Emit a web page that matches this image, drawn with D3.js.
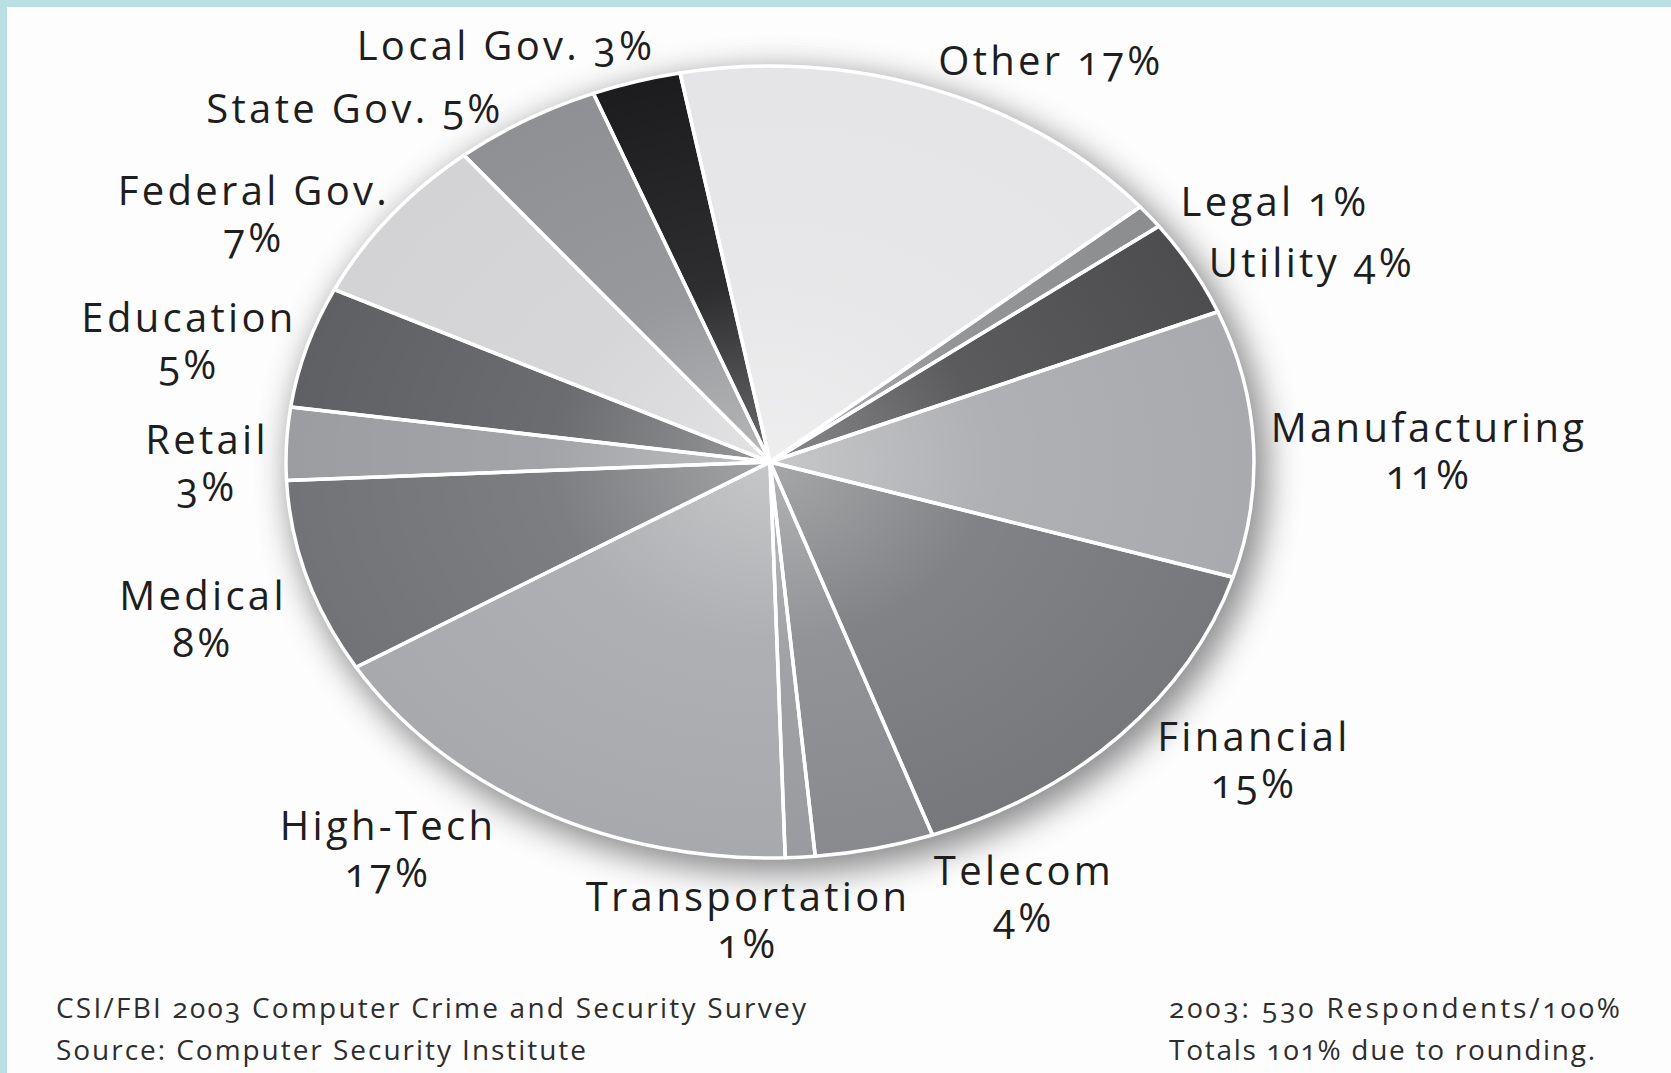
<!DOCTYPE html>
<html><head><meta charset="utf-8">
<script src="https://cdn.jsdelivr.net/npm/d3@7"></script>
<style>
html,body{margin:0;padding:0;background:#fdfdfd;overflow:hidden;}
svg{display:block;}
text{font-family:"Open Sans","Noto Sans",sans-serif;font-feature-settings:"onum" 1;font-variant-numeric:oldstyle-nums;}
</style></head><body>
<svg id="chart" width="1671" height="1073"></svg>
<script>
// ---- data ----
const categories = ["Other","Legal","Utility","Manufacturing","Financial","Telecom","Transportation","High-Tech","Medical","Retail","Education","Federal Gov.","State Gov.","Local Gov."];
const values = [17,1,4,11,15,4,1,17,8,3,5,7,5,3];
const footerLeft = ["CSI/FBI 2003 Computer Crime and Security Survey","Source: Computer Security Institute"];
const footerRight = ["2003: 530 Respondents/100%","Totals 101% due to rounding."];

// ---- styles / layout ----
const shades = ["#e5e5e7","#8c8d8f","#4d4d50","#a9aaad","#77787b","#898a8d","#9a9b9e","#a8a9ac","#727376","#9c9da0","#5f6063","#d3d3d5","#8f9093","#1c1b1d"];
const twoLine = [false,false,false,true,true,true,true,true,true,true,true,true,false,false];
const labelPos = [[1051,75],[1275,216],[1312,277],[1429,442],[1254,751],[1024,885],[748,911],[388,840],[203,610],[207,454],[189,332],[254,205],[355,123],[506,60]];
const footerLeftLen = [750,530];
const footerRightLen = [451,426];
const W = 1671, H = 1073;
const cx = 770, cy = 462, rx = 484, ry = 396, R = 400;
const startAngle = -0.187;
const lineGap = 47;

const svg = d3.select("#chart");
const defs = svg.append("defs");
const blur = defs.append("filter").attr("id","shadow").attr("x","-20%").attr("y","-20%").attr("width","140%").attr("height","140%");
blur.append("feGaussianBlur").attr("stdDeviation",16);
const rg = defs.append("radialGradient").attr("id","hl").attr("cx","50%").attr("cy","50%").attr("r","50%");
rg.append("stop").attr("offset","0%").attr("stop-color","#fff").attr("stop-opacity",0.35);
rg.append("stop").attr("offset","45%").attr("stop-color","#fff").attr("stop-opacity",0.08);
rg.append("stop").attr("offset","100%").attr("stop-color","#fff").attr("stop-opacity",0);

// background + border
svg.append("rect").attr("width",W).attr("height",H).attr("fill","#b9dfe3");
svg.append("rect").attr("x",7).attr("y",7).attr("width",W-7).attr("height",H-7).attr("fill","#fdfdfd");

// shadow
svg.append("ellipse").attr("cx",cx+8).attr("cy",cy+10).attr("rx",rx+6).attr("ry",ry+6)
  .attr("fill","#6f6f72").attr("opacity",0.8).attr("filter","url(#shadow)");

const pie = d3.pie().sort(null).value(d=>d).startAngle(startAngle).endAngle(startAngle+2*Math.PI);
const arc = d3.arc().innerRadius(0).outerRadius(R);
const g = svg.append("g").attr("transform",`translate(${cx},${cy}) scale(${rx/R},${ry/R})`);
const arcs = pie(values);
g.selectAll("path.slice").data(arcs).join("path").attr("class","slice")
  .attr("d",arc).attr("fill",(d,i)=>shades[i]);
g.append("circle").attr("r",R).attr("fill","url(#hl)");
g.selectAll("path.edge").data(arcs).join("path").attr("class","edge")
  .attr("d",arc).attr("fill","none").attr("stroke","#fff").attr("stroke-width",3.5)
  .attr("stroke-linejoin","round").attr("vector-effect","non-scaling-stroke");

// labels
const lab = svg.append("g").attr("fill","#1e1e1e").attr("font-size",40).attr("letter-spacing",3.3).attr("text-anchor","middle");
categories.forEach((c,i)=>{
  const t = lab.append("text").attr("x",labelPos[i][0]).attr("y",labelPos[i][1]);
  const pct = values[i]+"%";
  if(twoLine[i]){
    t.append("tspan").attr("x",labelPos[i][0]).text(c);
    t.append("tspan").attr("x",labelPos[i][0]).attr("dy",lineGap).text(pct);
  } else {
    t.text(c+" "+pct);
  }
});

// footer
const ft = svg.append("g").attr("fill","#2e2e2e").attr("font-size",28);
footerLeft.forEach((s,i)=>ft.append("text").attr("x",56).attr("y",1018+i*42)
  .attr("textLength",footerLeftLen[i]).attr("lengthAdjust","spacing").text(s));
footerRight.forEach((s,i)=>ft.append("text").attr("x",1169).attr("y",1018+i*42)
  .attr("textLength",footerRightLen[i]).attr("lengthAdjust","spacing").text(s));
</script>
</body></html>
